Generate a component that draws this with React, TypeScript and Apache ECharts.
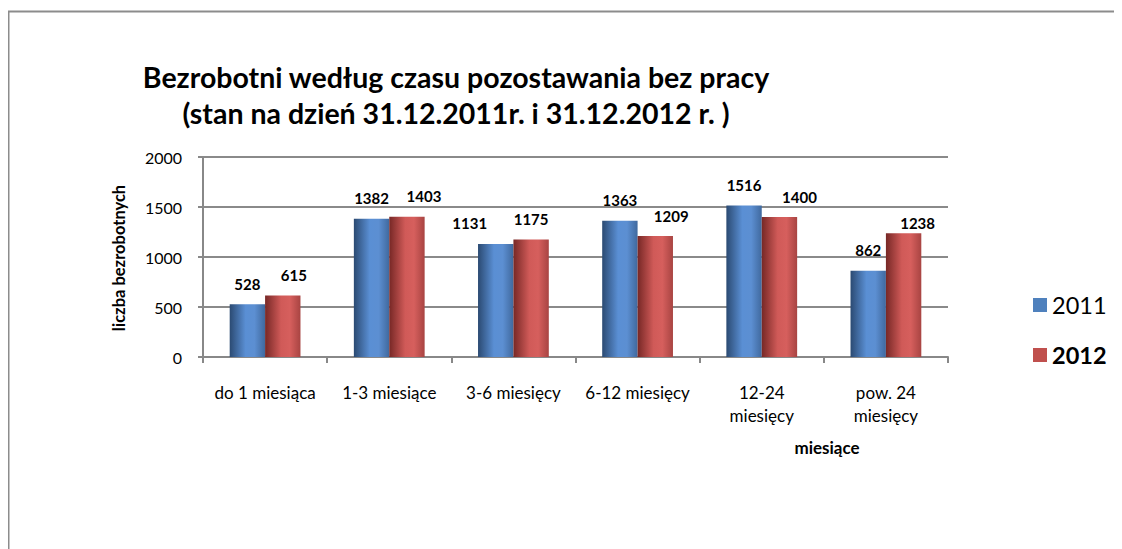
import React, { useEffect, useRef } from "react";
import * as echarts from "echarts";

const categories = [
  "do 1 miesiąca",
  "1-3 miesiące",
  "3-6 miesięcy",
  "6-12 miesięcy",
  "12-24\nmiesięcy",
  "pow. 24\nmiesięcy",
];
const values2011 = [528, 1382, 1131, 1363, 1516, 862];
const values2012 = [615, 1403, 1175, 1209, 1400, 1238];
const yTicks = [0, 500, 1000, 1500, 2000];

// label offsets (as placed in the original chart)
const offsets2011 = [[0, 0], [0, 0], [-26, 0], [0, 0], [0, 0], [0, 0]];
const offsets2012 = [[11, 0], [17, 0], [0, 0], [16, 0], [20, 0], [14, 10]];

const FONT = "Lato, 'Open Sans', sans-serif";

export default function App() {
  const ref = useRef<HTMLDivElement>(null);
  useEffect(() => {
    const chart = echarts.init(ref.current!, null, { renderer: "svg" });
    const blueGrad = new echarts.graphic.LinearGradient(0, 0, 1, 0, [
      { offset: 0, color: "#2b4a72" },
      { offset: 0.45, color: "#5a8fd4" },
      { offset: 0.7, color: "#5c8fd2" },
      { offset: 1, color: "#40699e" },
    ]);
    const redGrad = new echarts.graphic.LinearGradient(0, 0, 1, 0, [
      { offset: 0, color: "#772826" },
      { offset: 0.45, color: "#d05a58" },
      { offset: 0.7, color: "#d65f5d" },
      { offset: 1, color: "#a84442" },
    ]);
    const labelStyle = {
      show: true,
      position: "top" as const,
      distance: 13,
      fontFamily: FONT,
      fontWeight: "bold" as const,
      fontSize: 15,
      color: "#000",
    };
    const withOffsets = (vals: number[], offs: number[][]) =>
      vals.map((v, i) => ({ value: v, label: { offset: offs[i] } }));
    chart.setOption({
      animation: false,
      textStyle: { fontFamily: FONT },
      title: {
        text: "Bezrobotni według czasu pozostawania bez pracy\n(stan na dzień 31.12.2011r. i 31.12.2012 r. )",
        left: 448,
        top: 51,
        padding: 0,
        textAlign: "center",
        textStyle: {
          fontFamily: FONT,
          fontSize: 28.5,
          fontWeight: "bold",
          color: "#000",
          lineHeight: 36,
        },
      },
      legend: {
        orient: "vertical",
        left: 1025,
        top: 285,
        padding: 0,
        itemWidth: 14,
        itemHeight: 14,
        itemGap: 26,
        icon: "rect",
        data: [
          { name: "2011", itemStyle: { color: "#4f81bd" }, textStyle: { fontWeight: "normal" } },
          { name: "2012", itemStyle: { color: "#c0504d" }, textStyle: { fontWeight: "bold" } },
        ],
        textStyle: { fontFamily: FONT, fontSize: 23.5, color: "#000", lineHeight: 24 },
      },
      grid: { left: 195, top: 149, width: 745, height: 200 },
      xAxis: {
        type: "category",
        data: categories,
        axisLine: { lineStyle: { color: "#888", width: 2 } },
        axisTick: { show: true, length: 6, lineStyle: { color: "#888", width: 2 } },
        axisLabel: {
          interval: 0,
          margin: 23.5,
          fontSize: 17,
          lineHeight: 23,
          color: "#000",
          fontFamily: FONT,
        },
      },
      yAxis: {
        type: "value",
        min: 0,
        max: 2000,
        interval: 500,
        axisLine: { show: true, lineStyle: { color: "#888", width: 2 } },
        axisTick: { show: true, length: 5, lineStyle: { color: "#888", width: 2 } },
        splitLine: { show: true, lineStyle: { color: "#8a8a8a", width: 2 } },
        axisLabel: {
          margin: 21,
          fontSize: 16,
          color: "#000",
          fontFamily: FONT,
          formatter: (v: number) => (yTicks.includes(v) ? String(v) : ""),
        },
      },
      series: [
        {
          name: "2011",
          type: "bar",
          data: withOffsets(values2011, offsets2011),
          barGap: "0%",
          barCategoryGap: "43%",
          itemStyle: { color: blueGrad },
          label: labelStyle,
        },
        {
          name: "2012",
          type: "bar",
          data: withOffsets(values2012, offsets2012),
          itemStyle: { color: redGrad },
          label: labelStyle,
        },
      ],
      graphic: [
        {
          type: "line",
          shape: { x1: 0, y1: 3.5, x2: 1114, y2: 3.5 },
          style: { stroke: "#8c8c8c", lineWidth: 2 },
        },
        {
          type: "line",
          shape: { x1: 0.5, y1: 3.5, x2: 0.5, y2: 541 },
          style: { stroke: "#8c8c8c", lineWidth: 2 },
        },
        {
          type: "text",
          x: 111,
          y: 250,
          rotation: Math.PI / 2,
          style: {
            text: "liczba bezrobotnych",
            fontFamily: FONT,
            fontSize: 16.5,
            fontWeight: "bold",
            fill: "#000",
            align: "center",
            verticalAlign: "middle",
          },
        },
        {
          type: "text",
          x: 819,
          y: 439,
          style: {
            text: "miesiące",
            fontFamily: FONT,
            fontSize: 17,
            fontWeight: "bold",
            fill: "#000",
            align: "center",
            verticalAlign: "middle",
          },
        },
      ],
    });
    return () => chart.dispose();
  }, []);
  return <div ref={ref} style={{ width: 1114, height: 541 }} />;
}
